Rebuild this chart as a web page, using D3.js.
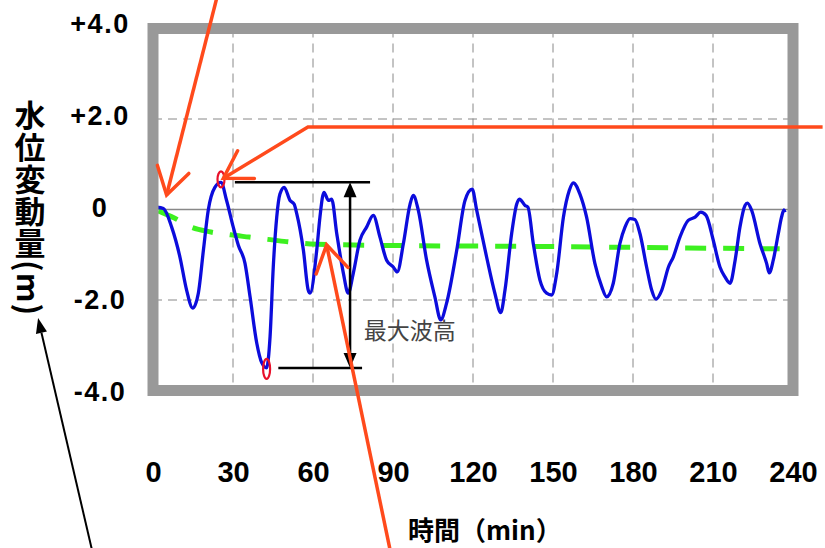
<!DOCTYPE html>
<html lang="ja">
<head>
<meta charset="UTF-8">
<title>水位変動量</title>
<style>
    body { margin: 0; background: #fff; }
    svg { display: block; }
    .tick text { font-family: "Liberation Sans", Arial, sans-serif; font-weight: bold; fill: #000; }
</style>
</head>
<body>
<div class="box"></div>
<script src="https://d3js.org/d3.v7.min.js"></script>
<script>
// 軸の目盛
const xTicks = [0, 30, 60, 90, 120, 150, 180, 210, 240];
const yTicks = [4, 2, 0, -2, -4];
const yTickLabels = ['+4.0', '+2.0', '0', '-2.0', '-4.0'];

// 水位変動（観測波形） 時間(min) / 水位(m)
const waveTime = [
    1.4, 3.9, 7.0, 10.1, 12.6, 14.9, 17.0, 18.9, 20.7, 23.2,
    25.5, 27.6, 30.1, 32.0, 34.5, 36.4, 38.9, 40.8, 42.6, 43.9,
    45.1, 46.4, 47.6, 49.2, 51.4, 52.9, 53.9, 56.4, 58.2, 58.9,
    61.4, 62.6, 64.1, 65.8, 67.0, 68.9, 71.4, 73.2, 75.1, 77.6,
    80.1, 82.6, 85.1, 87.6, 90.1, 91.6, 93.9, 96.4, 97.6, 99.5,
    102.6, 105.7, 107.9, 110.1, 113.9, 117.0, 119.7, 121.4, 125.1, 128.2,
    130.4, 132.0, 134.5, 136.4, 137.4, 139.5, 140.6, 142.6, 145.1, 147.6,
    149.5, 151.4, 153.9, 156.1, 157.6, 160.1, 162.6, 165.7, 168.3, 170.1,
    172.6, 175.1, 177.0, 178.9, 180.7, 182.6, 185.1, 187.0, 188.6, 190.8,
    193.3, 195.1, 197.6, 200.7, 203.3, 205.4, 207.4, 210.1, 212.6, 214.5,
    216.4, 218.3, 220.1, 222.0, 222.9, 224.5, 227.6, 230.1, 231.1, 232.6,
    234.5, 235.7, 236.6, 237.0
];
const waveLevel = [
    0.05, 0.02, -0.39, -1.05, -1.78, -2.18, -1.85, -0.90, -0.02, 0.49,
    0.60, 0.20, -0.39, -0.79, -1.19, -1.93, -2.95, -3.39, -3.50, -2.81,
    -1.27, -0.17, 0.34, 0.49, 0.20, 0.12, -0.09, -0.90, -1.78, -1.85,
    -0.90, -0.17, 0.38, 0.20, 0.23, -0.53, -1.41, -1.85, -1.41, -0.68,
    -0.39, -0.13, -0.61, -1.12, -1.27, -1.38, -0.75, 0.12, 0.31, -0.02,
    -1.12, -1.93, -2.44, -2.07, -0.90, 0.20, 0.45, -0.02, -1.05, -1.85,
    -2.28, -1.78, -0.53, 0.12, 0.23, 0.09, 0.05, -0.75, -1.56, -1.85,
    -1.89, -1.41, -0.17, 0.42, 0.59, 0.34, -0.17, -1.19, -1.71, -1.93,
    -1.63, -0.75, -0.39, -0.20, -0.22, -0.53, -1.27, -1.78, -1.98, -1.78,
    -1.27, -1.05, -0.61, -0.24, -0.17, -0.06, -0.13, -0.68, -1.27, -1.49,
    -1.63, -1.12, -0.39, 0.09, 0.14, -0.02, -0.75, -1.19, -1.40, -1.12,
    -0.53, -0.17, -0.01, -0.06
];

// 平均水位（緑の破線）
const trendTime = [2, 8, 14, 21, 29, 36, 43, 50, 59, 70, 100, 150, 200, 235];
const trendLevel = [-0.03, -0.19, -0.38, -0.49, -0.56, -0.61, -0.66, -0.71, -0.76, -0.78, -0.80, -0.82, -0.85, -0.87];

const W = 825, H = 548;
const svg = d3.select('.box').append('svg').attr('width', W).attr('height', H);

const x = d3.scaleLinear().domain([0, 240]).range([153, 793]);
const y = d3.scaleLinear().domain([-4, 4]).range([390.5, 28.5]);

const wave = waveTime.map((t, i) => ({ t, v: waveLevel[i] }));
const trend = trendTime.map((t, i) => ({ t, v: trendLevel[i] }));

// グリッド
const grid = svg.append('g');
grid.selectAll('.vg').data(xTicks.filter(d => d > 0 && d < 240)).enter().append('line')
    .attr('x1', d => x(d)).attr('x2', d => x(d))
    .attr('y1', y(4)).attr('y2', y(-4))
    .attr('stroke', '#888').attr('stroke-width', 1).attr('stroke-dasharray', '9 6');
grid.selectAll('.hg').data([2, -2]).enter().append('line')
    .attr('x1', x(0)).attr('x2', x(240))
    .attr('y1', d => y(d)).attr('y2', d => y(d))
    .attr('stroke', '#888').attr('stroke-width', 1).attr('stroke-dasharray', '9 6');
grid.append('line')
    .attr('x1', x(0)).attr('x2', x(240)).attr('y1', y(0)).attr('y2', y(0))
    .attr('stroke', '#888').attr('stroke-width', 1.3);

// 緑の破線
svg.append('path').datum(trend)
    .attr('d', d3.line().x(d => x(d.t)).y(d => y(d.v)).curve(d3.curveMonotoneX))
    .attr('fill', 'none').attr('stroke', '#3df020').attr('stroke-width', 5)
    .attr('stroke-dasharray', '21 17');

// 観測波形
svg.append('path').datum(wave)
    .attr('d', d3.line().x(d => x(d.t)).y(d => y(d.v)).curve(d3.curveMonotoneX))
    .attr('fill', 'none').attr('stroke', '#0c0cdc').attr('stroke-width', 3.3)
    .attr('stroke-linejoin', 'round');

// 枠
svg.append('rect')
    .attr('x', x(0)).attr('y', y(4))
    .attr('width', x(240) - x(0)).attr('height', y(-4) - y(4))
    .attr('fill', 'none').attr('stroke', '#999').attr('stroke-width', 11);

// 軸ラベル
const yAxis = d3.axisLeft(y).tickValues(yTicks)
    .tickFormat((d, i) => yTickLabels[i]).tickSize(0).tickPadding(0);
const gy = svg.append('g').attr('transform', 'translate(100,0)').call(yAxis);
gy.select('.domain').remove();
gy.selectAll('.tick text').attr('text-anchor', 'middle').attr('font-size', 27).attr('letter-spacing', 1.5)
    .attr('dy', d => (6.6 - 0.75 * d) + 'px');

const xAxis = d3.axisBottom(x).tickValues(xTicks).tickSize(0).tickPadding(0);
const gx = svg.append('g').attr('transform', 'translate(0,482)').call(xAxis);
gx.select('.domain').remove();
gx.selectAll('.tick text').attr('y', 0).attr('dy', 0).attr('font-size', 29);

// 軸タイトル
svg.append('text')
    .attr('x', 30).attr('y', 100)
    .style('writing-mode', 'vertical-rl')
    .attr('font-family', '"Noto Sans CJK JP", sans-serif')
    .attr('font-weight', 'bold').attr('font-size', 31).attr('letter-spacing', 1)
    .text('水位変動量(m)');

svg.append('text')
    .attr('x', 408).attr('y', 540)
    .attr('font-family', '"Noto Sans CJK JP", sans-serif')
    .attr('font-weight', 'bold').attr('font-size', 26)
    .text('時間（min）');

// 最大波高
const iMax = d3.maxIndex(wave, d => d.v);
const iMin = d3.minIndex(wave, d => d.v);
const yTop = y(wave[iMax].v), yBot = y(wave[iMin].v);
const ann = svg.append('g');
ann.append('line').attr('x1', x(30.7)).attr('x2', x(81.4)).attr('y1', yTop).attr('y2', yTop)
    .attr('stroke', '#000').attr('stroke-width', 2.5);
ann.append('line').attr('x1', x(47)).attr('x2', x(78.4)).attr('y1', yBot).attr('y2', yBot)
    .attr('stroke', '#000').attr('stroke-width', 2.5);
const xv = x(73.9);
ann.append('line').attr('x1', xv).attr('x2', xv).attr('y1', yTop + 10).attr('y2', yBot - 10)
    .attr('stroke', '#000').attr('stroke-width', 2.5);
ann.append('path').attr('d', `M${xv},${yTop}L${xv - 6.5},${yTop + 15}L${xv + 6.5},${yTop + 15}Z`).attr('fill', '#000');
ann.append('path').attr('d', `M${xv},${yBot}L${xv - 6.5},${yBot - 15}L${xv + 6.5},${yBot - 15}Z`).attr('fill', '#000');
ann.append('text').attr('x', x(79)).attr('y', y(-2.86))
    .attr('font-family', '"Noto Sans CJK JP", sans-serif')
    .attr('font-size', 23).attr('fill', '#444')
    .text('最大波高');

// 赤い楕円（最高・最低）
ann.append('ellipse').attr('cx', x(wave[iMax].t)).attr('cy', yTop - 3).attr('rx', 3.5).attr('ry', 8)
    .attr('fill', 'none').attr('stroke', '#e8102a').attr('stroke-width', 2.2);
ann.append('ellipse').attr('cx', x(wave[iMin].t)).attr('cy', yBot + 1).attr('rx', 3.5).attr('ry', 10)
    .attr('fill', 'none').attr('stroke', '#e8102a').attr('stroke-width', 2.2);

// 矢印
const red = '#ff4a1c';
function head(tip, from, len, ang) {
    const dx = from[0] - tip[0], dy = from[1] - tip[1];
    const l = Math.hypot(dx, dy), ux = dx / l, uy = dy / l;
    const r = a => [tip[0] + len * (ux * Math.cos(a) - uy * Math.sin(a)),
                    tip[1] + len * (ux * Math.sin(a) + uy * Math.cos(a))];
    return [r(ang), r(-ang)];
}
function openArrow(pts, color, width) {
    const p = pts.map(d => [x(d[0]), y(d[1])]);
    const tip = p[p.length - 1], prev = p[p.length - 2];
    const [a, b] = head(tip, prev, 31, 0.55);
    ann.append('path').attr('d', d3.line()(p)).attr('fill', 'none')
        .attr('stroke', color).attr('stroke-width', width).attr('stroke-linejoin', 'miter');
    ann.append('path').attr('d', d3.line()([a, tip, b])).attr('fill', 'none')
        .attr('stroke', color).attr('stroke-width', width).attr('stroke-linecap', 'round');
}
openArrow([[23.9, 4.67], [5.1, 0.32]], red, 3.5);
openArrow([[251.1, 1.823], [58.1, 1.823], [26.4, 0.69]], red, 3.5);
openArrow([[88.9, -7.52], [65.1, -0.78]], red, 3.5);

// 黒い矢印（縦軸タイトルへ）
{
    const tip = [x(-43.1), y(-2.40)], tail = [x(-22.9), y(-7.52)];
    const [a, b] = head(tip, tail, 16, 0.36);
    ann.append('line').attr('x1', tail[0]).attr('y1', tail[1]).attr('x2', (a[0] + b[0]) / 2).attr('y2', (a[1] + b[1]) / 2)
        .attr('stroke', '#000').attr('stroke-width', 2);
    ann.append('path').attr('d', `M${tip}L${a}L${b}Z`).attr('fill', '#000');
}
</script>
</body>
</html>
